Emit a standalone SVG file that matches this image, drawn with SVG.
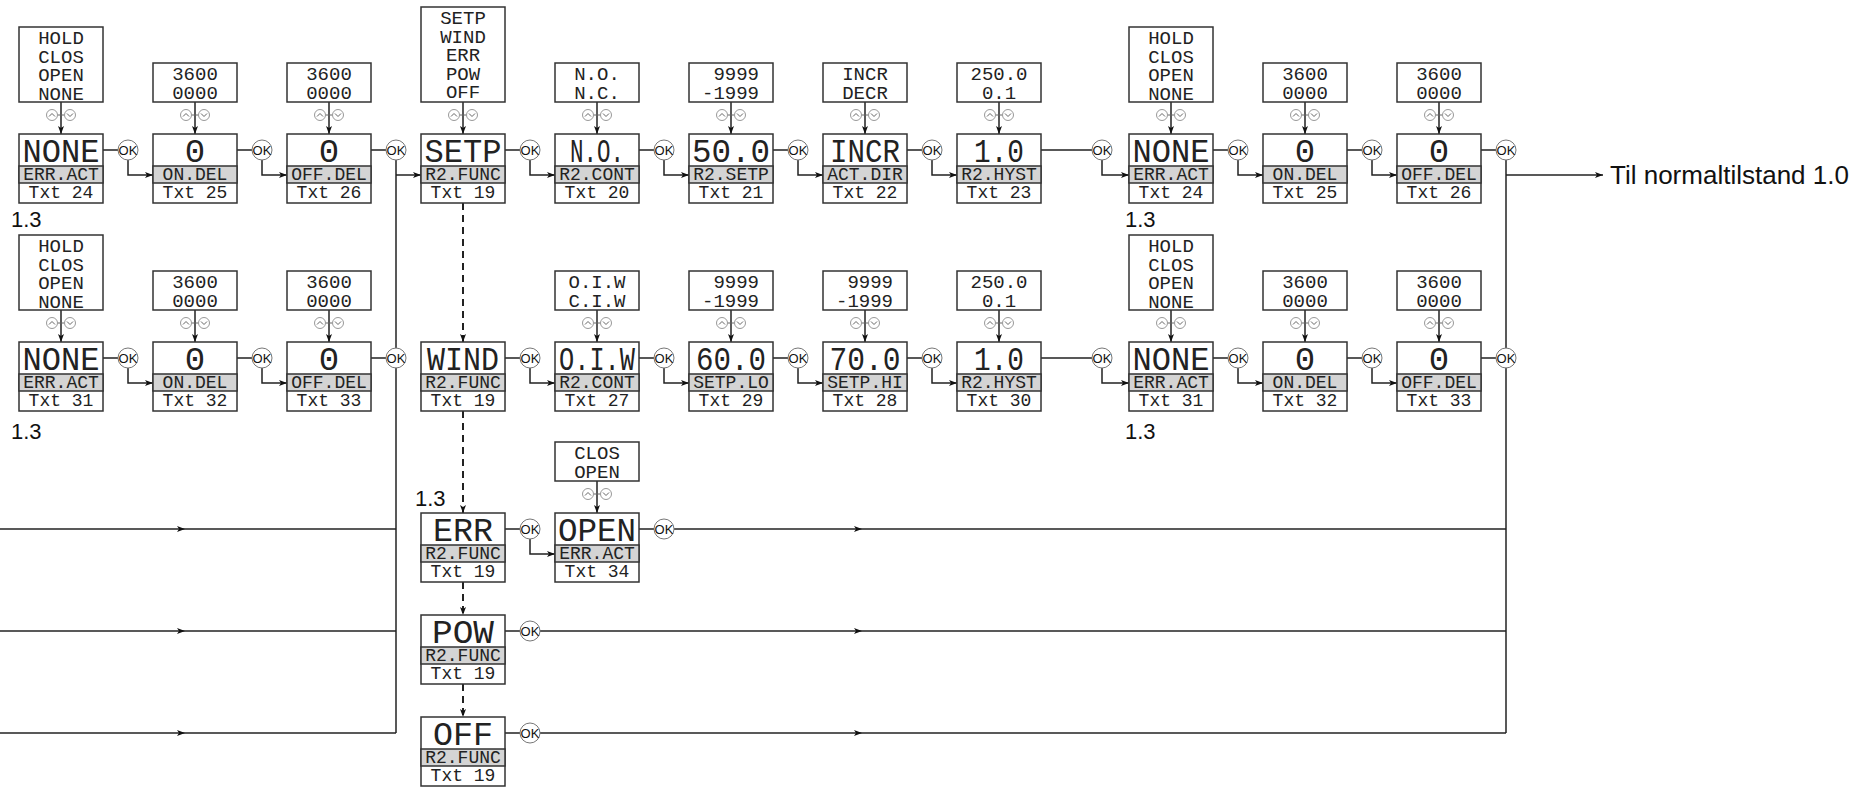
<svg xmlns="http://www.w3.org/2000/svg" xmlns:xlink="http://www.w3.org/1999/xlink" width="1861" height="788" viewBox="0 0 1861 788">
<defs>
<style>
.b{fill:#fff;stroke:#333;stroke-width:1.5}
.g{fill:#d4d4d4;stroke:#333;stroke-width:1.5}
.v{font-family:"Liberation Mono","DejaVu Sans Mono",monospace;font-size:34px;fill:#222;text-anchor:middle}
.s{font-family:"Liberation Mono","DejaVu Sans Mono",monospace;font-size:18px;fill:#222;text-anchor:middle}
.o{font-family:"Liberation Mono","DejaVu Sans Mono",monospace;font-size:19px;fill:#222;text-anchor:middle}
.oe{text-anchor:end}
.okc{fill:#fff;stroke:#777;stroke-width:1}
.okt{font-family:"Liberation Sans",Arial,sans-serif;font-size:13px;fill:#111;text-anchor:middle}
.ln{fill:none;stroke:#222;stroke-width:1.5}
.ar{marker-end:url(#ah)}
.dash{stroke-dasharray:7 5;stroke-width:2}
.udc{fill:#fff;stroke:#999;stroke-width:1}
.udp{fill:none;stroke:#666;stroke-width:1}
.lbl{font-family:"Liberation Sans",Arial,sans-serif;font-size:22px;fill:#111}
.big{font-family:"Liberation Sans",Arial,sans-serif;font-size:26px;fill:#111}
</style>
<marker id="ah" viewBox="0 0 8 6" refX="8" refY="3" markerWidth="8" markerHeight="6" orient="auto" markerUnits="userSpaceOnUse"><path d="M0,0L8,3L0,6L2,3z" fill="#111"/></marker>
<g id="ud"><path class="udp" d="M-3.5,0H3.5"/><circle class="udc" cx="-9" r="5.5"/><circle class="udc" cx="9" r="5.5"/><path class="udp" d="M-12,1.5L-9,-1.5L-6,1.5M6,-1.5L9,1.5L12,-1.5"/></g>
</defs>
<rect width="1861" height="788" fill="#fff"/>

<!-- connectors -->
<g id="connectors">
<!-- option box to node arrows row 1 -->
<path class="ln ar" d="M61,102V134"/><path class="ln ar" d="M195,102V134"/><path class="ln ar" d="M329,102V134"/><path class="ln ar" d="M463,102V134"/><path class="ln ar" d="M597,102V134"/><path class="ln ar" d="M731,102V134"/><path class="ln ar" d="M865,102V134"/><path class="ln ar" d="M999,102V134"/><path class="ln ar" d="M1171,102V134"/><path class="ln ar" d="M1305,102V134"/><path class="ln ar" d="M1439,102V134"/>
<!-- row 2 -->
<path class="ln ar" d="M61,310V342"/><path class="ln ar" d="M195,310V342"/><path class="ln ar" d="M329,310V342"/><path class="ln ar" d="M597,310V342"/><path class="ln ar" d="M731,310V342"/><path class="ln ar" d="M865,310V342"/><path class="ln ar" d="M999,310V342"/><path class="ln ar" d="M1171,310V342"/><path class="ln ar" d="M1305,310V342"/><path class="ln ar" d="M1439,310V342"/>
<!-- row 3 -->
<path class="ln ar" d="M597,481V513"/>
<!-- row 1 node to OK -->
<path class="ln" d="M103,150H118M237,150H252M371,150H386M505,150H520M639,150H654M773,150H788M907,150H922M1041,150H1092M1213,150H1228M1347,150H1362M1481,150H1496"/>
<path class="ln ar" d="M128,160V175H153"/>
<path class="ln ar" d="M262,160V175H287"/>
<path class="ln ar" d="M530,160V175H555"/>
<path class="ln ar" d="M664,160V175H689"/>
<path class="ln ar" d="M798,160V175H823"/>
<path class="ln ar" d="M932,160V175H957"/>
<path class="ln ar" d="M1102,160V175H1129"/>
<path class="ln ar" d="M1238,160V175H1263"/>
<path class="ln ar" d="M1372,160V175H1397"/>
<!-- row 2 node to OK -->
<path class="ln" d="M103,358H118M237,358H252M371,358H386M505,358H520M639,358H654M773,358H788M907,358H922M1041,358H1092M1213,358H1228M1347,358H1362M1481,358H1496"/>
<path class="ln ar" d="M128,368V383H153"/>
<path class="ln ar" d="M262,368V383H287"/>
<path class="ln ar" d="M530,368V383H555"/>
<path class="ln ar" d="M664,368V383H689"/>
<path class="ln ar" d="M798,368V383H823"/>
<path class="ln ar" d="M932,368V383H957"/>
<path class="ln ar" d="M1102,368V383H1129"/>
<path class="ln ar" d="M1238,368V383H1263"/>
<path class="ln ar" d="M1372,368V383H1397"/>
<!-- rows 3-5 -->
<path class="ln" d="M505,529H520M639,529H654M505,631H520M505,733H520"/>
<path class="ln ar" d="M530,539V554H555"/>
<!-- left bus -->
<path class="ln" d="M396,160V733"/>
<path class="ln ar" d="M396,175H421"/>
<path class="ln ar" d="M0,529H185"/><path class="ln" d="M185,529H396"/>
<path class="ln ar" d="M0,631H185"/><path class="ln" d="M185,631H396"/>
<path class="ln ar" d="M0,733H185"/><path class="ln" d="M185,733H396"/>
<!-- right bus -->
<path class="ln" d="M1506,160V733"/>
<path class="ln ar" d="M1506,175H1603"/>
<path class="ln ar" d="M674,529H862"/><path class="ln" d="M862,529H1506"/>
<path class="ln ar" d="M540,631H862"/><path class="ln" d="M862,631H1506"/>
<path class="ln ar" d="M540,733H862"/><path class="ln" d="M862,733H1506"/>
<!-- dashed R2.FUNC chain -->
<path class="ln dash ar" d="M463,203V342"/>
<path class="ln dash ar" d="M463,411V513"/>
<path class="ln dash ar" d="M463,582V615"/>
<path class="ln dash ar" d="M463,684V717"/>
</g>

<!-- up/down key icons -->
<g id="keys">
<use xlink:href="#ud" href="#ud" x="61" y="115"/><use xlink:href="#ud" href="#ud" x="195" y="115"/><use xlink:href="#ud" href="#ud" x="329" y="115"/><use xlink:href="#ud" href="#ud" x="463" y="115"/><use xlink:href="#ud" href="#ud" x="597" y="115"/><use xlink:href="#ud" href="#ud" x="731" y="115"/><use xlink:href="#ud" href="#ud" x="865" y="115"/><use xlink:href="#ud" href="#ud" x="999" y="115"/><use xlink:href="#ud" href="#ud" x="1171" y="115"/><use xlink:href="#ud" href="#ud" x="1305" y="115"/><use xlink:href="#ud" href="#ud" x="1439" y="115"/>
<use xlink:href="#ud" href="#ud" x="61" y="323"/><use xlink:href="#ud" href="#ud" x="195" y="323"/><use xlink:href="#ud" href="#ud" x="329" y="323"/><use xlink:href="#ud" href="#ud" x="597" y="323"/><use xlink:href="#ud" href="#ud" x="731" y="323"/><use xlink:href="#ud" href="#ud" x="865" y="323"/><use xlink:href="#ud" href="#ud" x="999" y="323"/><use xlink:href="#ud" href="#ud" x="1171" y="323"/><use xlink:href="#ud" href="#ud" x="1305" y="323"/><use xlink:href="#ud" href="#ud" x="1439" y="323"/>
<use xlink:href="#ud" href="#ud" x="597" y="494"/>
</g>

<!-- OK buttons -->
<g id="ok-buttons">
<circle class="okc" cx="128" cy="150" r="10"/><text class="okt" x="128" y="154.5">OK</text>
<circle class="okc" cx="262" cy="150" r="10"/><text class="okt" x="262" y="154.5">OK</text>
<circle class="okc" cx="396" cy="150" r="10"/><text class="okt" x="396" y="154.5">OK</text>
<circle class="okc" cx="530" cy="150" r="10"/><text class="okt" x="530" y="154.5">OK</text>
<circle class="okc" cx="664" cy="150" r="10"/><text class="okt" x="664" y="154.5">OK</text>
<circle class="okc" cx="798" cy="150" r="10"/><text class="okt" x="798" y="154.5">OK</text>
<circle class="okc" cx="932" cy="150" r="10"/><text class="okt" x="932" y="154.5">OK</text>
<circle class="okc" cx="1102" cy="150" r="10"/><text class="okt" x="1102" y="154.5">OK</text>
<circle class="okc" cx="1238" cy="150" r="10"/><text class="okt" x="1238" y="154.5">OK</text>
<circle class="okc" cx="1372" cy="150" r="10"/><text class="okt" x="1372" y="154.5">OK</text>
<circle class="okc" cx="1506" cy="150" r="10"/><text class="okt" x="1506" y="154.5">OK</text>
<circle class="okc" cx="128" cy="358" r="10"/><text class="okt" x="128" y="362.5">OK</text>
<circle class="okc" cx="262" cy="358" r="10"/><text class="okt" x="262" y="362.5">OK</text>
<circle class="okc" cx="396" cy="358" r="10"/><text class="okt" x="396" y="362.5">OK</text>
<circle class="okc" cx="530" cy="358" r="10"/><text class="okt" x="530" y="362.5">OK</text>
<circle class="okc" cx="664" cy="358" r="10"/><text class="okt" x="664" y="362.5">OK</text>
<circle class="okc" cx="798" cy="358" r="10"/><text class="okt" x="798" y="362.5">OK</text>
<circle class="okc" cx="932" cy="358" r="10"/><text class="okt" x="932" y="362.5">OK</text>
<circle class="okc" cx="1102" cy="358" r="10"/><text class="okt" x="1102" y="362.5">OK</text>
<circle class="okc" cx="1238" cy="358" r="10"/><text class="okt" x="1238" y="362.5">OK</text>
<circle class="okc" cx="1372" cy="358" r="10"/><text class="okt" x="1372" y="362.5">OK</text>
<circle class="okc" cx="1506" cy="358" r="10"/><text class="okt" x="1506" y="362.5">OK</text>
<circle class="okc" cx="530" cy="529" r="10"/><text class="okt" x="530" y="533.5">OK</text>
<circle class="okc" cx="664" cy="529" r="10"/><text class="okt" x="664" y="533.5">OK</text>
<circle class="okc" cx="530" cy="631" r="10"/><text class="okt" x="530" y="635.5">OK</text>
<circle class="okc" cx="530" cy="733" r="10"/><text class="okt" x="530" y="737.5">OK</text>
</g>

<!-- Row 1 -->
<g id="r1-err-act" transform="translate(19,134)">
<rect class="b" y="-107" width="84" height="75"/><text class="o" x="42" y="-90">HOLD</text><text class="o" x="42" y="-71.5">CLOS</text><text class="o" x="42" y="-53">OPEN</text><text class="o" x="42" y="-34.5">NONE</text>
<rect class="b" width="84" height="69"/><rect class="g" y="32" width="84" height="17"/>
<text class="v" x="42" y="28" textLength="77" lengthAdjust="spacingAndGlyphs">NONE</text><text class="s" x="42" y="46">ERR.ACT</text><text class="s" x="42" y="64">Txt 24</text>
</g>
<g id="r1-on-del" transform="translate(153,134)">
<rect class="b" y="-71" width="84" height="39"/><text class="o" x="42" y="-54">3600</text><text class="o" x="42" y="-35.5">0000</text>
<rect class="b" width="84" height="69"/><rect class="g" y="32" width="84" height="17"/>
<text class="v" x="42" y="28">0</text><text class="s" x="42" y="46">ON.DEL</text><text class="s" x="42" y="64">Txt 25</text>
</g>
<g id="r1-off-del" transform="translate(287,134)">
<rect class="b" y="-71" width="84" height="39"/><text class="o" x="42" y="-54">3600</text><text class="o" x="42" y="-35.5">0000</text>
<rect class="b" width="84" height="69"/><rect class="g" y="32" width="84" height="17"/>
<text class="v" x="42" y="28">0</text><text class="s" x="42" y="46">OFF.DEL</text><text class="s" x="42" y="64">Txt 26</text>
</g>
<g id="r1-r2-func-setp" transform="translate(421,134)">
<rect class="b" y="-127" width="84" height="95"/><text class="o" x="42" y="-110">SETP</text><text class="o" x="42" y="-91.5">WIND</text><text class="o" x="42" y="-73">ERR</text><text class="o" x="42" y="-54.5">POW</text><text class="o" x="42" y="-36">OFF</text>
<rect class="b" width="84" height="69"/><rect class="g" y="32" width="84" height="17"/>
<text class="v" x="42" y="28" textLength="77" lengthAdjust="spacingAndGlyphs">SETP</text><text class="s" x="42" y="46">R2.FUNC</text><text class="s" x="42" y="64">Txt 19</text>
</g>
<g id="r1-r2-cont" transform="translate(555,134)">
<rect class="b" y="-71" width="84" height="39"/><text class="o" x="42" y="-54">N.O.</text><text class="o" x="42" y="-35.5">N.C.</text>
<rect class="b" width="84" height="69"/><rect class="g" y="32" width="84" height="17"/>
<text class="v" x="42" y="28" textLength="54" lengthAdjust="spacingAndGlyphs">N.O.</text><text class="s" x="42" y="46">R2.CONT</text><text class="s" x="42" y="64">Txt 20</text>
</g>
<g id="r1-r2-setp" transform="translate(689,134)">
<rect class="b" y="-71" width="84" height="39"/><text class="o oe" x="70" y="-54">9999</text><text class="o oe" x="70" y="-35.5">-1999</text>
<rect class="b" width="84" height="69"/><rect class="g" y="32" width="84" height="17"/>
<text class="v" x="42" y="28" textLength="78" lengthAdjust="spacingAndGlyphs">50.0</text><text class="s" x="42" y="46">R2.SETP</text><text class="s" x="42" y="64">Txt 21</text>
</g>
<g id="r1-act-dir" transform="translate(823,134)">
<rect class="b" y="-71" width="84" height="39"/><text class="o" x="42" y="-54">INCR</text><text class="o" x="42" y="-35.5">DECR</text>
<rect class="b" width="84" height="69"/><rect class="g" y="32" width="84" height="17"/>
<text class="v" x="42" y="28" textLength="70" lengthAdjust="spacingAndGlyphs">INCR</text><text class="s" x="42" y="46">ACT.DIR</text><text class="s" x="42" y="64">Txt 22</text>
</g>
<g id="r1-r2-hyst" transform="translate(957,134)">
<rect class="b" y="-71" width="84" height="39"/><text class="o" x="42" y="-54">250.0</text><text class="o" x="42" y="-35.5">0.1</text>
<rect class="b" width="84" height="69"/><rect class="g" y="32" width="84" height="17"/>
<text class="v" x="42" y="28" textLength="50" lengthAdjust="spacingAndGlyphs">1.0</text><text class="s" x="42" y="46">R2.HYST</text><text class="s" x="42" y="64">Txt 23</text>
</g>
<g id="r1-err-act-2" transform="translate(1129,134)">
<rect class="b" y="-107" width="84" height="75"/><text class="o" x="42" y="-90">HOLD</text><text class="o" x="42" y="-71.5">CLOS</text><text class="o" x="42" y="-53">OPEN</text><text class="o" x="42" y="-34.5">NONE</text>
<rect class="b" width="84" height="69"/><rect class="g" y="32" width="84" height="17"/>
<text class="v" x="42" y="28" textLength="77" lengthAdjust="spacingAndGlyphs">NONE</text><text class="s" x="42" y="46">ERR.ACT</text><text class="s" x="42" y="64">Txt 24</text>
</g>
<g id="r1-on-del-2" transform="translate(1263,134)">
<rect class="b" y="-71" width="84" height="39"/><text class="o" x="42" y="-54">3600</text><text class="o" x="42" y="-35.5">0000</text>
<rect class="b" width="84" height="69"/><rect class="g" y="32" width="84" height="17"/>
<text class="v" x="42" y="28">0</text><text class="s" x="42" y="46">ON.DEL</text><text class="s" x="42" y="64">Txt 25</text>
</g>
<g id="r1-off-del-2" transform="translate(1397,134)">
<rect class="b" y="-71" width="84" height="39"/><text class="o" x="42" y="-54">3600</text><text class="o" x="42" y="-35.5">0000</text>
<rect class="b" width="84" height="69"/><rect class="g" y="32" width="84" height="17"/>
<text class="v" x="42" y="28">0</text><text class="s" x="42" y="46">OFF.DEL</text><text class="s" x="42" y="64">Txt 26</text>
</g>

<!-- Row 2 -->
<g id="r2-err-act" transform="translate(19,342)">
<rect class="b" y="-107" width="84" height="75"/><text class="o" x="42" y="-90">HOLD</text><text class="o" x="42" y="-71.5">CLOS</text><text class="o" x="42" y="-53">OPEN</text><text class="o" x="42" y="-34.5">NONE</text>
<rect class="b" width="84" height="69"/><rect class="g" y="32" width="84" height="17"/>
<text class="v" x="42" y="28" textLength="77" lengthAdjust="spacingAndGlyphs">NONE</text><text class="s" x="42" y="46">ERR.ACT</text><text class="s" x="42" y="64">Txt 31</text>
</g>
<g id="r2-on-del" transform="translate(153,342)">
<rect class="b" y="-71" width="84" height="39"/><text class="o" x="42" y="-54">3600</text><text class="o" x="42" y="-35.5">0000</text>
<rect class="b" width="84" height="69"/><rect class="g" y="32" width="84" height="17"/>
<text class="v" x="42" y="28">0</text><text class="s" x="42" y="46">ON.DEL</text><text class="s" x="42" y="64">Txt 32</text>
</g>
<g id="r2-off-del" transform="translate(287,342)">
<rect class="b" y="-71" width="84" height="39"/><text class="o" x="42" y="-54">3600</text><text class="o" x="42" y="-35.5">0000</text>
<rect class="b" width="84" height="69"/><rect class="g" y="32" width="84" height="17"/>
<text class="v" x="42" y="28">0</text><text class="s" x="42" y="46">OFF.DEL</text><text class="s" x="42" y="64">Txt 33</text>
</g>
<g id="r2-r2-func-wind" transform="translate(421,342)">
<rect class="b" width="84" height="69"/><rect class="g" y="32" width="84" height="17"/>
<text class="v" x="42" y="28" textLength="72" lengthAdjust="spacingAndGlyphs">WIND</text><text class="s" x="42" y="46">R2.FUNC</text><text class="s" x="42" y="64">Txt 19</text>
</g>
<g id="r2-r2-cont" transform="translate(555,342)">
<rect class="b" y="-71" width="84" height="39"/><text class="o" x="42" y="-54">O.I.W</text><text class="o" x="42" y="-35.5">C.I.W</text>
<rect class="b" width="84" height="69"/><rect class="g" y="32" width="84" height="17"/>
<text class="v" x="42" y="28" textLength="76" lengthAdjust="spacingAndGlyphs">O.I.W</text><text class="s" x="42" y="46">R2.CONT</text><text class="s" x="42" y="64">Txt 27</text>
</g>
<g id="r2-setp-lo" transform="translate(689,342)">
<rect class="b" y="-71" width="84" height="39"/><text class="o oe" x="70" y="-54">9999</text><text class="o oe" x="70" y="-35.5">-1999</text>
<rect class="b" width="84" height="69"/><rect class="g" y="32" width="84" height="17"/>
<text class="v" x="42" y="28" textLength="70" lengthAdjust="spacingAndGlyphs">60.0</text><text class="s" x="42" y="46">SETP.LO</text><text class="s" x="42" y="64">Txt 29</text>
</g>
<g id="r2-setp-hi" transform="translate(823,342)">
<rect class="b" y="-71" width="84" height="39"/><text class="o oe" x="70" y="-54">9999</text><text class="o oe" x="70" y="-35.5">-1999</text>
<rect class="b" width="84" height="69"/><rect class="g" y="32" width="84" height="17"/>
<text class="v" x="42" y="28" textLength="71" lengthAdjust="spacingAndGlyphs">70.0</text><text class="s" x="42" y="46">SETP.HI</text><text class="s" x="42" y="64">Txt 28</text>
</g>
<g id="r2-r2-hyst" transform="translate(957,342)">
<rect class="b" y="-71" width="84" height="39"/><text class="o" x="42" y="-54">250.0</text><text class="o" x="42" y="-35.5">0.1</text>
<rect class="b" width="84" height="69"/><rect class="g" y="32" width="84" height="17"/>
<text class="v" x="42" y="28" textLength="50" lengthAdjust="spacingAndGlyphs">1.0</text><text class="s" x="42" y="46">R2.HYST</text><text class="s" x="42" y="64">Txt 30</text>
</g>
<g id="r2-err-act-2" transform="translate(1129,342)">
<rect class="b" y="-107" width="84" height="75"/><text class="o" x="42" y="-90">HOLD</text><text class="o" x="42" y="-71.5">CLOS</text><text class="o" x="42" y="-53">OPEN</text><text class="o" x="42" y="-34.5">NONE</text>
<rect class="b" width="84" height="69"/><rect class="g" y="32" width="84" height="17"/>
<text class="v" x="42" y="28" textLength="77" lengthAdjust="spacingAndGlyphs">NONE</text><text class="s" x="42" y="46">ERR.ACT</text><text class="s" x="42" y="64">Txt 31</text>
</g>
<g id="r2-on-del-2" transform="translate(1263,342)">
<rect class="b" y="-71" width="84" height="39"/><text class="o" x="42" y="-54">3600</text><text class="o" x="42" y="-35.5">0000</text>
<rect class="b" width="84" height="69"/><rect class="g" y="32" width="84" height="17"/>
<text class="v" x="42" y="28">0</text><text class="s" x="42" y="46">ON.DEL</text><text class="s" x="42" y="64">Txt 32</text>
</g>
<g id="r2-off-del-2" transform="translate(1397,342)">
<rect class="b" y="-71" width="84" height="39"/><text class="o" x="42" y="-54">3600</text><text class="o" x="42" y="-35.5">0000</text>
<rect class="b" width="84" height="69"/><rect class="g" y="32" width="84" height="17"/>
<text class="v" x="42" y="28">0</text><text class="s" x="42" y="46">OFF.DEL</text><text class="s" x="42" y="64">Txt 33</text>
</g>

<!-- Rows 3-5 -->
<g id="r3-r2-func-err" transform="translate(421,513)">
<rect class="b" width="84" height="69"/><rect class="g" y="32" width="84" height="17"/>
<text class="v" x="42" y="28" textLength="60" lengthAdjust="spacingAndGlyphs">ERR</text><text class="s" x="42" y="46">R2.FUNC</text><text class="s" x="42" y="64">Txt 19</text>
</g>
<g id="r3-err-act" transform="translate(555,513)">
<rect class="b" y="-71" width="84" height="39"/><text class="o" x="42" y="-54">CLOS</text><text class="o" x="42" y="-35.5">OPEN</text>
<rect class="b" width="84" height="69"/><rect class="g" y="32" width="84" height="17"/>
<text class="v" x="42" y="28" textLength="78" lengthAdjust="spacingAndGlyphs">OPEN</text><text class="s" x="42" y="46">ERR.ACT</text><text class="s" x="42" y="64">Txt 34</text>
</g>
<g id="r4-r2-func-pow" transform="translate(421,615)">
<rect class="b" width="84" height="69"/><rect class="g" y="32" width="84" height="17"/>
<text class="v" x="42" y="28" textLength="62" lengthAdjust="spacingAndGlyphs">POW</text><text class="s" x="42" y="46">R2.FUNC</text><text class="s" x="42" y="64">Txt 19</text>
</g>
<g id="r5-r2-func-off" transform="translate(421,717)">
<rect class="b" width="84" height="69"/><rect class="g" y="32" width="84" height="17"/>
<text class="v" x="42" y="28" textLength="60" lengthAdjust="spacingAndGlyphs">OFF</text><text class="s" x="42" y="46">R2.FUNC</text><text class="s" x="42" y="64">Txt 19</text>
</g>

<!-- labels -->
<g id="labels">
<text class="lbl" x="11" y="227">1.3</text>
<text class="lbl" x="1125" y="227">1.3</text>
<text class="lbl" x="11" y="439">1.3</text>
<text class="lbl" x="1125" y="439">1.3</text>
<text class="lbl" x="415" y="506">1.3</text>
<text class="big" x="1610" y="184">Til normaltilstand 1.0</text>
</g>
</svg>
